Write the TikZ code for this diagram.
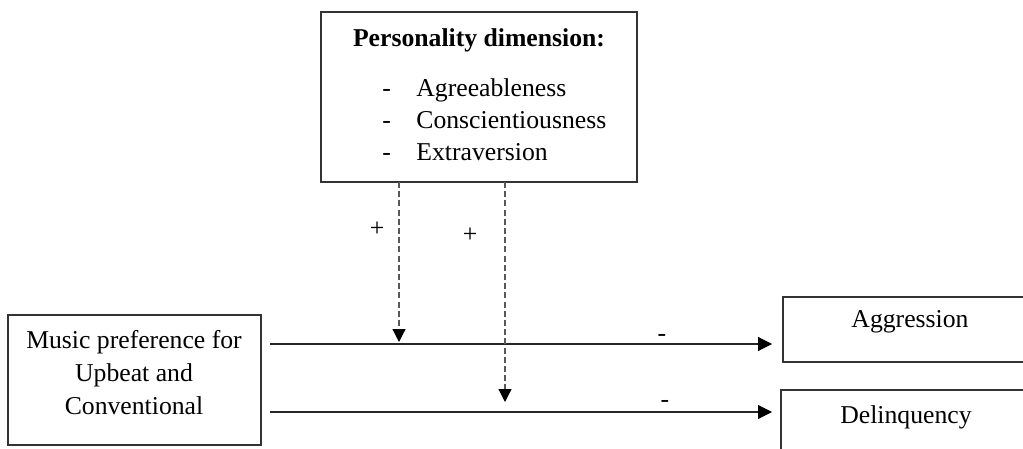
\documentclass[tikz,border=0pt]{standalone}
\usepackage{fontspec}
\setmainfont{Liberation Serif}
\usetikzlibrary{arrows.meta}
\begin{document}
\begin{tikzpicture}[x=0.5pt,y=-0.5pt,
  box/.style={draw=black!80, line width=0.6pt, inner sep=0pt},
  txt/.style={inner sep=0pt, font=\fontsize{12.85}{16.5}\selectfont},
  path/.style={draw=black!85, line width=0.55pt, -{Triangle[length=7pt,width=7pt,fill=black,color=black]}},
  mod/.style={draw=black!65, line width=0.6pt, dash pattern=on 3pt off 1.6pt, -{Triangle[length=6.5pt,width=6.5pt,fill=black,color=black]}}
]
\useasboundingbox (0,0) rectangle (1023,449);
\clip (0,0) rectangle (1023,449);
% boxes
\node[box, minimum width=158pt, minimum height=85pt] (pers) at (479,97) {};
\node[box, minimum width=126.5pt, minimum height=65pt] (music) at (134.5,380) {};
\node[box, minimum width=133.5pt, minimum height=32.5pt] (agg) at (916.5,329.5) {};
\node[box, minimum width=134.5pt, minimum height=45pt] (del) at (915.5,435) {};
% texts
\node[txt, font=\fontsize{12.85}{16.5}\selectfont\bfseries] (ptitle) at (479,40) {Personality dimension:};
\node[txt, anchor=base west] (d1) at (382,97) {-};
\node[txt, anchor=base west] (d2) at (382,129) {-};
\node[txt, anchor=base west] (d3) at (382,161) {-};
\node[txt, anchor=base west] (i1) at (416,97) {Agreeableness};
\node[txt, anchor=base west] (i2) at (416,129) {Conscientiousness};
\node[txt, anchor=base west] (i3) at (416,161) {Extraversion};
\node[txt, align=center] (mtext) at (134,373) {Music preference for\\Upbeat and\\Conventional};
\node[txt] (atext) at (910,322) {Aggression};
\node[txt] (dtext) at (906,417) {Delinquency};
% connector end points
\coordinate (m1) at (270,344);
\coordinate (a1) at (772,344);
\coordinate (m2) at (270,412);
\coordinate (a2) at (772,412);
\coordinate (p1) at (399,182);
\coordinate (t1) at (399,342);
\coordinate (p2) at (505,182);
\coordinate (t2) at (505,402);
\draw[path] (m1) -- (a1);
\draw[path] (m2) -- (a2);
\draw[mod] (p1) -- (t1);
\draw[mod] (p2) -- (t2);
% labels
\node[txt] (plus1) at (377,229) {+};
\node[txt] (plus2) at (470,235) {+};
\node[txt] (minus1) at (662,338) {-};
\node[txt] (minus2) at (665,404) {-};
\end{tikzpicture}
\end{document}
